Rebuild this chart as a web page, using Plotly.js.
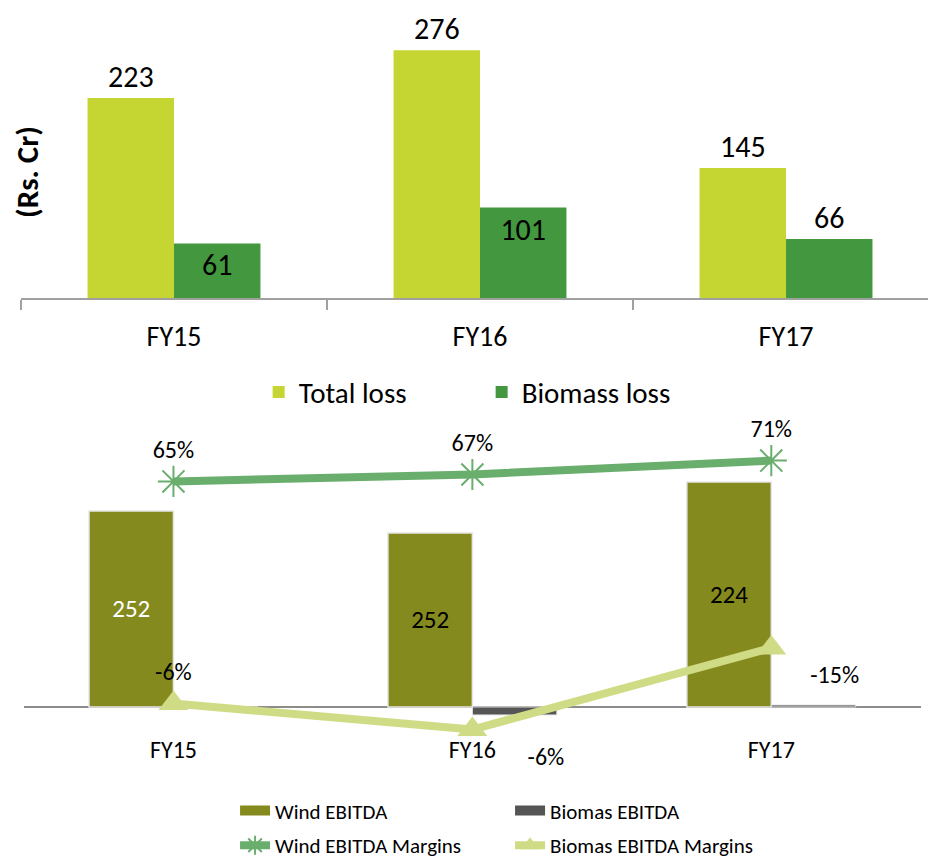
<!DOCTYPE html>
<html>
<head>
<meta charset="utf-8">
<script src="https://cdn.plot.ly/plotly-3.0.1.min.js"></script>
<style>
  html, body { margin: 0; padding: 0; background: #fff; }
  #chart { width: 928px; height: 862px; }
</style>
</head>
<body>
<div id="chart"></div>
<script>
// dane - wykres gorny (straty)
const lata = ['FY15', 'FY16', 'FY17'];
const totalLoss = [223, 276, 145];
const biomassLoss = [61, 101, 66];

// dane - wykres dolny (EBITDA), wysokosci
const windEbitda = [196, 174, 225];
const windEbitdaEtykiety = ['252', '252', '224'];
const biomasEbitda = [-1, -8, 2];
const windMarze = [65, 67, 71];
const windMarzeEtykiety = ['65%', '67%', '71%'];
const biomasMarze = [1, -6.5, 17];
const biomasMarzeEtykiety = ['-6%', '-6%', '-15%'];

const czcionka = 'Carlito, Lato, sans-serif';
const kolorWind = '#858A1F';
const kolorBiomas = '#555555';
const odstep = n => '\u00a0'.repeat(n);

const traceTotal = {
  type: 'bar', name: 'Total loss', x: lata, y: totalLoss,
  xaxis: 'x', yaxis: 'y',
  marker: { color: '#C5D531' },
  text: totalLoss.map(String), textposition: 'outside',
  textfont: { size: 30, color: '#000' },
  cliponaxis: false, constraintext: 'none',
  legend: 'legend'
};

const traceBiomass = {
  type: 'bar', name: 'Biomass loss', x: lata, y: biomassLoss,
  xaxis: 'x', yaxis: 'y',
  marker: { color: '#43983F' },
  text: biomassLoss.map(String), textposition: ['inside', 'inside', 'outside'],
  textfont: { size: 30, color: '#000' },
  insidetextfont: { size: 30, color: '#000' },
  cliponaxis: false, constraintext: 'none',
  legend: 'legend'
};

// slupki dolne - legenda rysowana osobno (szerokie prostokaty)
const traceWind = {
  type: 'bar', name: 'Wind EBITDA', x: lata, y: windEbitda,
  xaxis: 'x2', yaxis: 'y2',
  marker: { color: kolorWind, line: { color: '#E6E6E6', width: 1.5 } },
  text: windEbitdaEtykiety, textposition: 'inside', insidetextanchor: 'middle',
  textfont: { size: 25, color: ['#fff', '#000', '#000'] },
  constraintext: 'none',
  showlegend: false
};

const traceBiomasEbitda = {
  type: 'bar', name: 'Biomas EBITDA', x: lata, y: biomasEbitda,
  xaxis: 'x2', yaxis: 'y2',
  marker: { color: kolorBiomas, line: { color: '#E6E6E6', width: 1 } },
  showlegend: false
};

const legendaWind = {
  type: 'scatter', mode: 'lines', name: 'Wind EBITDA', x: [null], y: [null],
  xaxis: 'x2', yaxis: 'y2', line: { color: kolorWind, width: 10 }, legend: 'legend2'
};
const legendaBiomas = {
  type: 'scatter', mode: 'lines', name: 'Biomas EBITDA', x: [null], y: [null],
  xaxis: 'x2', yaxis: 'y2', line: { color: kolorBiomas, width: 10 }, legend: 'legend2'
};

const traceWindMarze = {
  type: 'scatter', mode: 'lines+markers+text', name: 'Wind EBITDA Margins',
  x: lata, y: windMarze, xaxis: 'x2', yaxis: 'y3',
  line: { color: '#6AAE6D', width: 8 },
  marker: { symbol: 'asterisk-open', size: 26, color: '#6AAE6D', line: { color: '#6AAE6D', width: 2 } },
  text: windMarzeEtykiety, textposition: 'top center',
  textfont: { size: 24, color: '#000' },
  cliponaxis: false,
  legend: 'legend3'
};

const traceBiomasMarze = {
  type: 'scatter', mode: 'lines+markers+text', name: 'Biomas EBITDA Margins',
  x: lata, y: biomasMarze, xaxis: 'x2', yaxis: 'y3',
  line: { color: '#D0DC85', width: 8 },
  marker: { symbol: 'triangle-up', size: 26, color: '#D0DC85' },
  text: biomasMarzeEtykiety, textposition: ['top center', 'bottom right', 'bottom right'],
  texttemplate: ['%{text}', odstep(7) + '%{text}', odstep(4) + '%{text}'],
  textfont: { size: 24, color: '#000' },
  cliponaxis: false,
  legend: 'legend3'
};

const szary = '#A0A0A0';

const layout = {
  width: 928, height: 862,
  margin: { l: 21, r: 0, t: 0, b: 0, autoexpand: false },
  paper_bgcolor: '#fff', plot_bgcolor: 'rgba(0,0,0,0)',
  font: { family: czcionka, color: '#000' },
  barmode: 'group', bargap: 0.435, bargroupgap: 0,
  xaxis: {
    domain: [0, 1], anchor: 'y', type: 'category', range: [-0.5, 2.464],
    showline: true, linecolor: szary, linewidth: 1.5,
    ticks: 'outside', tickson: 'boundaries', ticklen: 10, tickcolor: szary, tickwidth: 1.5,
    tickfont: { size: 28 }, ticklabelstandoff: 13,
    showgrid: false, zeroline: false, automargin: false, fixedrange: true
  },
  yaxis: {
    domain: [0.654, 1], anchor: 'x', range: [0, 332],
    showticklabels: false, showgrid: false, zeroline: false, showline: false,
    automargin: false, fixedrange: true
  },
  xaxis2: {
    domain: [0.0033, 0.992], anchor: 'y2', type: 'category', range: [-0.5, 2.5],
    showline: false, ticks: '', tickfont: { size: 24 }, ticklabelstandoff: 0,
    showgrid: false, zeroline: false, automargin: false, fixedrange: true
  },
  yaxis2: {
    domain: [0.1497, 0.5012], anchor: 'x2', range: [-26, 277],
    showticklabels: false, showgrid: false, showline: false,
    zeroline: true, zerolinecolor: '#8C8C8C', zerolinewidth: 2,
    automargin: false, fixedrange: true
  },
  yaxis3: {
    overlaying: 'y2', anchor: 'x2', side: 'right', range: [-7.49, 79.83],
    showticklabels: false, showgrid: false, showline: false, zeroline: false,
    automargin: false, fixedrange: true
  },
  legend: {
    orientation: 'h', x: 0.262, xanchor: 'left', y: 0.5452, yanchor: 'middle',
    font: { size: 29 }, entrywidth: 178, bgcolor: 'rgba(0,0,0,0)', traceorder: 'normal'
  },
  legend2: {
    orientation: 'h', x: 0.236, xanchor: 'left', y: 0.0592, yanchor: 'middle',
    font: { size: 21 }, entrywidth: 230, bgcolor: 'rgba(0,0,0,0)', traceorder: 'normal'
  },
  legend3: {
    orientation: 'h', x: 0.236, xanchor: 'left', y: 0.019, yanchor: 'middle',
    font: { size: 21 }, entrywidth: 230, bgcolor: 'rgba(0,0,0,0)', traceorder: 'normal'
  },
  annotations: [{
    text: '<b>(Rs. Cr)</b>', xref: 'paper', yref: 'paper',
    x: 0.0066, y: 0.8005, xanchor: 'center', yanchor: 'middle',
    textangle: -90, showarrow: false, font: { size: 31 }
  }]
};

const dane = [traceTotal, traceBiomass, traceWind, traceBiomasEbitda,
  legendaWind, legendaBiomas, traceWindMarze, traceBiomasMarze];
Plotly.newPlot('chart', dane, layout, { displayModeBar: false, staticPlot: true });
</script>
</body>
</html>
